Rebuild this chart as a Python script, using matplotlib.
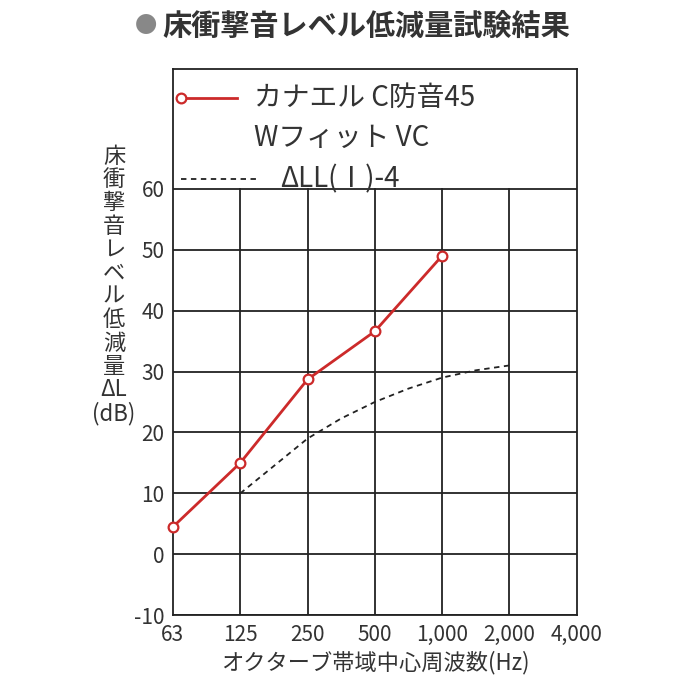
import matplotlib
matplotlib.use("Agg")
import matplotlib.pyplot as plt

plt.rcParams['font.family'] = ['Noto Sans CJK JP', 'DejaVu Sans']
plt.rcParams['axes.unicode_minus'] = False

x_labels = ["63", "125", "250", "500", "1,000", "2,000", "4,000"]
red_x = [0, 1, 2, 3, 4]
red_y = [4.5, 15, 28.7, 36.6, 49]
ref_x = [1, 1.5, 2, 2.5, 3, 3.5, 4, 4.5, 5]
ref_y = [10, 14.5, 19, 22.3, 25, 27.2, 29, 30.2, 31]
y_ticks = [-10, 0, 10, 20, 30, 40, 50, 60]

fig = plt.figure(figsize=(7, 7), dpi=100)
ax = fig.add_axes([0.247, 0.121, 0.577, 0.781])
ax.set_xlim(0, 6)
ax.set_ylim(-10, 79.7)
for y in y_ticks:
    ax.plot([0, 6], [y, y], color='#222', lw=1.3, zorder=1)
for xi in range(1, 6):
    ax.plot([xi, xi], [-10, 60], color='#222', lw=1.3, zorder=1)
for s in ax.spines.values():
    s.set_linewidth(1.3)
    s.set_color('#222')

ax.plot(ref_x, ref_y, ls=(0, (3, 2.5)), color='#222', lw=1.3, zorder=2)
ax.plot(red_x, red_y, color='#cc2a2a', lw=2, marker='o', ms=7,
        mfc='white', mec='#cc2a2a', mew=1.6, zorder=3, clip_on=False)

ax.set_xticks(range(7))
ax.set_xticklabels(x_labels)
ax.set_yticks(y_ticks)
ax.tick_params(length=0, labelsize=15, colors='#333', pad=6)
ax.set_xlabel("オクターブ帯域中心周波数(Hz)", fontsize=16, color='#333', labelpad=4)

# legend
ax.plot([0.12, 0.95], [74.9, 74.9], color='#cc2a2a', lw=2, marker='o', ms=7,
        mfc='white', mec='#cc2a2a', mew=1.6, markevery=[0])
ax.plot([0.12, 1.25], [61.6, 61.6], ls=(0, (3, 2.5)), color='#222', lw=1.3)
ax.text(1.2, 74.9, "カナエル C防音45", fontsize=20, va='center', color='#333')
ax.text(1.2, 68.3, "Wフィット VC", fontsize=20, va='center', color='#333')
ax.text(1.6, 61.6, "ΔLL(Ⅰ)-4", fontsize=20, va='center', color='#333')

fig.text(0.163, 0.593, "床\n衝\n撃\n音\nレ\nベ\nル\n低\n減\n量\nΔL\n(dB)", fontsize=16,
         ha='center', va='center', color='#333', linespacing=1.02)
fig.text(0.193, 0.963, "●", fontsize=16, color='#888', va='center')
fig.text(0.232, 0.963, "床衝撃音レベル低減量試験結果", fontsize=21, weight='bold',
         color='#333', va='center')

fig.savefig("out.png", dpi=100)
